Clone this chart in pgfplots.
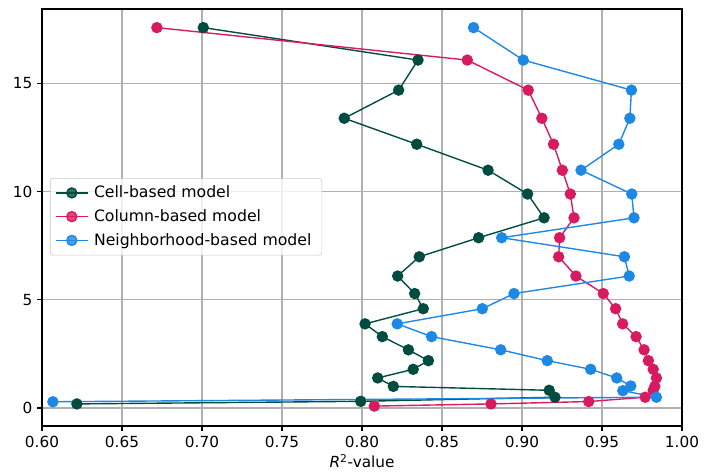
\documentclass[border=0pt]{standalone}
\usepackage{pgfplots}
\pgfplotsset{compat=1.18}
\usepackage{fontspec}
\setmainfont{DejaVu Sans}
\definecolor{cgreen}{HTML}{004D40}
\definecolor{cred}{HTML}{D81B60}
\definecolor{cblue}{HTML}{1E88E5}
\definecolor{gridgray}{HTML}{B0B0B0}
\begin{document}
\begin{tikzpicture}
\begin{axis}[
  scale only axis, width=460.8pt, height=300.24pt,
  xmin=0.6, xmax=1.0, ymin=-0.83, ymax=18.44,
  xtick={0.6,0.65,0.7,0.75,0.8,0.85,0.9,0.95,1.0},
  ytick={0,5,10,15},
  xtick pos=bottom, ytick pos=left,
  grid=major, major grid style={color=gridgray, line width=0.8pt},
  axis line style={line width=0.8pt},
  tick style={line width=0.8pt, black},
  tick align=outside, major tick length=3.5pt,
  tick label style={font=\fontsize{11}{13}\selectfont},
  /pgf/number format/assume math mode=true,
  xticklabel style={/pgf/number format/.cd, fixed, fixed zerofill, precision=2},
  xlabel={\textit{R}\textsuperscript{2}-value},
  label style={font=\fontsize{11}{13}\selectfont},
  xlabel style={yshift=2pt},
  legend cell align=left,
  legend style={at={(0.0125,0.502)}, anchor=west, draw=gridgray!70, rounded corners=2pt,
    fill=white, fill opacity=0.8, text opacity=1, draw opacity=1,
    font=\fontsize{11.3}{13}\selectfont, row sep=3pt, inner sep=3.5pt,
    nodes={inner xsep=4pt}},
  legend image code/.code={\draw[mark repeat=2,mark phase=2,#1] plot coordinates {(0pt,0pt) (11.5pt,0pt) (23pt,0pt)};},
  every axis plot/.append style={line width=1pt, mark=*, mark size=3.6pt, mark options={solid}},
]
\addplot[color=cgreen] table {
x y
0.7008 17.58
0.8350 16.08
0.8229 14.69
0.7889 13.39
0.8342 12.19
0.8788 10.99
0.9035 9.89
0.9138 8.79
0.8729 7.87
0.8358 6.99
0.8223 6.10
0.8329 5.29
0.8383 4.59
0.8019 3.89
0.8127 3.30
0.8290 2.69
0.8415 2.19
0.8320 1.79
0.8098 1.39
0.8196 1.00
0.9170 0.82
0.9206 0.50
0.7992 0.31
0.6218 0.19
};
\addlegendentry{Cell-based model}
\addplot[color=cred] table {
x y
0.6718 17.58
0.8658 16.08
0.9039 14.69
0.9124 13.39
0.9197 12.19
0.9252 10.99
0.9302 9.89
0.9325 8.79
0.9235 7.87
0.9229 6.99
0.9337 6.10
0.9508 5.29
0.9585 4.59
0.9629 3.89
0.9713 3.30
0.9763 2.69
0.9790 2.19
0.9820 1.79
0.9840 1.39
0.9830 1.00
0.9820 0.82
0.9770 0.50
0.9417 0.30
0.8806 0.19
0.8077 0.09
};
\addlegendentry{Column-based model}
\addplot[color=cblue] table {
x y
0.8697 17.58
0.9008 16.08
0.9684 14.69
0.9674 13.39
0.9605 12.19
0.9369 10.99
0.9686 9.89
0.9700 8.79
0.8873 7.87
0.9640 6.99
0.9670 6.10
0.8950 5.29
0.8752 4.59
0.8220 3.89
0.8435 3.30
0.8867 2.69
0.9158 2.19
0.9429 1.79
0.9592 1.39
0.9680 1.02
0.9630 0.80
0.9840 0.50
0.6068 0.29
};
\addlegendentry{Neighborhood-based model}
\end{axis}
\pgfresetboundingbox
\path ([shift={(-30.24pt,-35.28pt)}]current axis.south west) rectangle ([shift={(23.04pt,6.48pt)}]current axis.north east);
\end{tikzpicture}
\end{document}
